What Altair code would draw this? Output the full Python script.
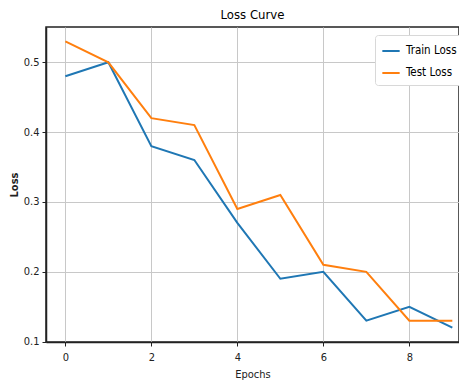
import altair as alt
import pandas as pd

epochs = [0, 1, 2, 3, 4, 5, 6, 7, 8, 9]
train_loss = [0.48, 0.50, 0.38, 0.36, 0.27, 0.19, 0.20, 0.13, 0.15, 0.12]
test_loss = [0.53, 0.50, 0.42, 0.41, 0.29, 0.31, 0.21, 0.20, 0.13, 0.13]
series = ["Train Loss", "Test Loss"]
colors = ["#1f77b4", "#ff7f0e"]

rows = []
for e, v in zip(epochs, train_loss):
    rows.append({"Epochs": e, "Loss": v, "Series": series[0]})
for e, v in zip(epochs, test_loss):
    rows.append({"Epochs": e, "Loss": v, "Series": series[1]})
df = pd.DataFrame(rows)

FONT = "DejaVu Sans Condensed"

chart = alt.Chart(df).mark_line(strokeWidth=2).encode(
    x=alt.X("Epochs:Q",
            scale=alt.Scale(domain=[-0.45, 9.155], nice=False, zero=False),
            axis=alt.Axis(values=[0, 2, 4, 6, 8], format="d", title="Epochs",
                          titleFontWeight="normal", titlePadding=6, labelPadding=5)),
    y=alt.Y("Loss:Q",
            scale=alt.Scale(domain=[0.0995, 0.5505], nice=False, zero=False),
            axis=alt.Axis(values=[0.1, 0.2, 0.3, 0.4, 0.5], format=".1f", title="Loss",
                          titleFontWeight="bold", titlePadding=4)),
    color=alt.Color("Series:N",
                    scale=alt.Scale(domain=series, range=colors),
                    legend=alt.Legend(title=None, orient="none", legendX=329, legendY=8,
                                      symbolType="stroke", symbolStrokeWidth=2,
                                      symbolSize=300, fillColor="white",
                                      strokeColor="#d8d8d8", padding=6, cornerRadius=3,
                                      labelFontSize=11.5, labelFont=FONT, rowPadding=6,
                                      labelOffset=5)),
).properties(
    width=413,
    height=315,
    title=alt.TitleParams("Loss Curve", fontSize=13, font=FONT, fontWeight="normal", offset=5),
    autosize=alt.AutoSizeParams(type="none"),
    padding={"left": 38, "top": 19, "right": 0, "bottom": 39},
).configure_view(
    stroke="#222222", strokeWidth=1.5
).configure_axis(
    labelFont=FONT, titleFont=FONT, labelFontSize=11, titleFontSize=11,
    labelColor="#222222", titleColor="#222222",
    grid=True, gridColor="#c8c8c8", gridWidth=1,
    domainColor="#222222", domainWidth=1.5,
    tickColor="#222222", tickSize=4, labelPadding=3,
)

chart.save("out.html", embed_options={"renderer": "svg", "actions": False})
